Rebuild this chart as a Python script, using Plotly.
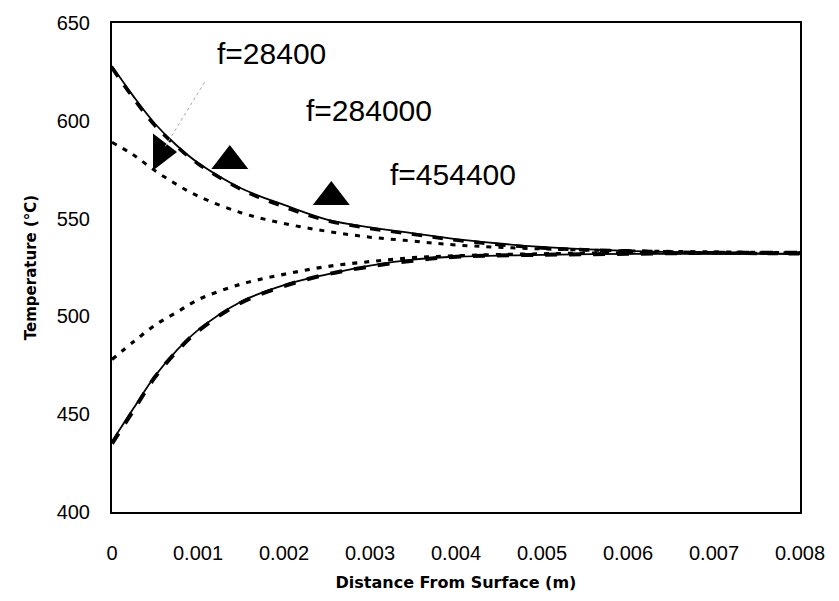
import plotly.graph_objects as go

# distance from surface (m)
x_vals = [0, 0.00025, 0.0005, 0.00075, 0.001, 0.0015, 0.002, 0.0025, 0.003,
          0.0035, 0.004, 0.005, 0.006, 0.007, 0.008]

# upper (heating) profiles
upper_solid = [628, 612.5, 598.5, 587.5, 578.5, 565.5, 557, 549.5, 545.5,
               542.5, 539.5, 535.5, 533.5, 532.5, 532]
upper_dash = [627, 611.5, 597.5, 587, 578, 565, 556, 549, 545,
              542, 539, 535, 533.5, 532.5, 532]
upper_dot = [589, 582.5, 574.5, 567.5, 561.5, 553, 547.5, 543.5, 540.5,
             538.5, 536.5, 534.5, 533.5, 533, 532.5]

# lower (cooling) profiles
lower_solid = [436, 453, 469.5, 482.5, 493, 507.5, 516, 521.5, 526,
               529, 530.5, 531.5, 532, 532, 532]
lower_dash = [435, 452, 469, 482, 492.5, 507, 515.5, 521.5, 525.5,
              528.5, 530.5, 531.5, 532, 532.5, 532.5]
lower_dot = [478, 487, 495.5, 502, 508.5, 516.5, 521.5, 525.5, 528,
             530, 531, 532, 532.5, 532.5, 532.5]

# label pointers (triangles) and labels
label_texts = ["f=28400", "f=284000", "f=454400"]
label_x = [0.00186, 0.00299, 0.00397]
label_y = [634.5, 605.5, 572.5]
tri_x = [0.00057, 0.00137, 0.00255]
tri_y = [584, 579.5, 561]
tri_symbols = ["triangle-right", "triangle-up", "triangle-up"]

x_ticks = [0, 0.001, 0.002, 0.003, 0.004, 0.005, 0.006, 0.007, 0.008]
x_tick_text = ["0", "0.001", "0.002", "0.003", "0.004", "0.005", "0.006", "0.007", "0.008"]
y_ticks = [400, 450, 500, 550, 600, 650]

fig = go.Figure()

def add_line(y, dash, width):
    fig.add_trace(go.Scatter(x=x_vals, y=y, mode="lines",
                             line=dict(color="black", dash=dash, width=width, shape="spline"),
                             showlegend=False, hoverinfo="skip"))

add_line(upper_dot, "5px,7px", 3)
add_line(lower_dot, "5px,7px", 3.2)
add_line(upper_dash, "dash", 3.5)
add_line(lower_dash, "dash", 4)
add_line(upper_solid, "solid", 1.8)
add_line(lower_solid, "solid", 1.8)

fig.add_trace(go.Scatter(x=tri_x, y=tri_y, mode="markers",
                         marker=dict(symbol=tri_symbols, size=32, color="black"),
                         showlegend=False, hoverinfo="skip"))

# leader line from first triangle to its label
fig.add_trace(go.Scatter(x=[tri_x[0] + 0.00005, 0.00108], y=[587, 620],
                         mode="lines", line=dict(color="#aaaaaa", dash="dot", width=1),
                         showlegend=False, hoverinfo="skip"))

for t, xx, yy in zip(label_texts, label_x, label_y):
    fig.add_annotation(x=xx, y=yy, text=t, showarrow=False,
                       font=dict(family="Arial, Liberation Sans, sans-serif", size=30, color="black"))

fig.update_layout(
    width=839, height=601,
    margin=dict(l=112, r=39, t=22, b=88),
    paper_bgcolor="white", plot_bgcolor="white",
    font=dict(family="Arial, Liberation Sans, sans-serif", color="black"),
)
fig.update_xaxes(range=[0, 0.008], tickvals=x_ticks, ticktext=x_tick_text,
                 showgrid=False, zeroline=False, showline=True, linecolor="black",
                 linewidth=2, mirror=True, ticks="", tickfont=dict(size=20),
                 ticklabelstandoff=22,
                 title=dict(text="<b>Distance From Surface (m)</b>",
                            font=dict(family="DejaVu Sans", size=16), standoff=14))
fig.update_yaxes(range=[400, 650], tickvals=y_ticks,
                 showgrid=False, zeroline=False, showline=True, linecolor="black",
                 linewidth=2, mirror=True, ticks="", tickfont=dict(size=20),
                 ticklabelstandoff=16,
                 title=dict(text="<b>Temperature (°C)</b>",
                            font=dict(family="DejaVu Sans", size=15), standoff=16))

fig.write_html("out.html")
